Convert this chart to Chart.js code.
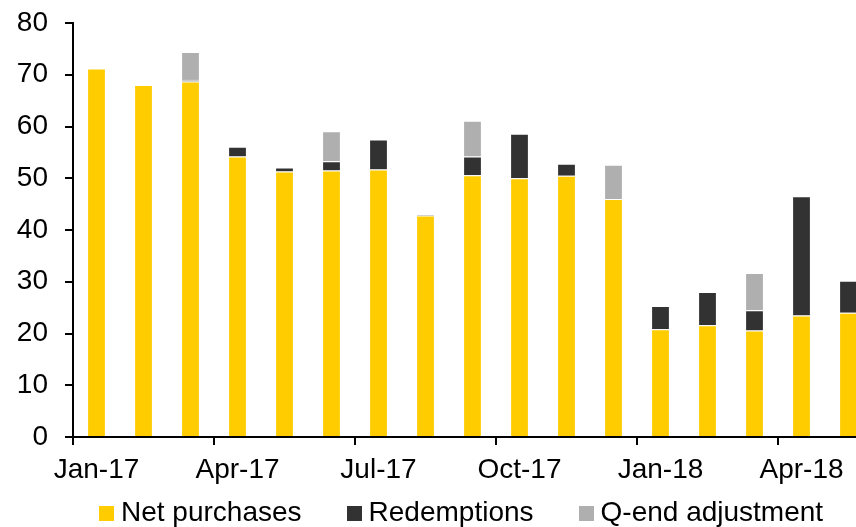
<!DOCTYPE html>
<html>
<head>
<meta charset="utf-8">
<script src="https://cdn.jsdelivr.net/npm/chart.js@4/dist/chart.umd.min.js"></script>
<style>
    html, body { margin: 0; padding: 0; background: #fff; }
    #wrap { position: relative; width: 856px; height: 527px; overflow: hidden; }
    #flows-chart { position: absolute; left: 0; top: 0; }
    #flows-legend {
        position: absolute; left: 99px; top: 498px;
        display: flex; gap: 45px;
        font: 28px Arial, "Liberation Sans", sans-serif; line-height: 28px; color: #000;
        white-space: nowrap;
    }
    #flows-legend .swatch {
        display: inline-block; width: 15px; height: 15px; margin-right: 7px;
        vertical-align: baseline;
    }
</style>
</head>
<body>
<div id="wrap">
    <canvas id="flows-chart" width="872" height="527"></canvas>
    <div id="flows-legend"></div>
</div>
<script>
// monthly flows
const months = [
    "Jan-17", "Feb-17", "Mar-17", "Apr-17", "May-17", "Jun-17", "Jul-17", "Aug-17", "Sep-17",
    "Oct-17", "Nov-17", "Dec-17", "Jan-18", "Feb-18", "Mar-18", "Apr-18", "May-18"
];
const netPurchases = [71.2, 68.0, 68.7, 54.2, 51.3, 51.5, 51.7, 42.8, 50.6, 50.0, 50.5, 46.0, 20.8, 21.6, 20.6, 23.5, 24.0];
const redemptions = [null, null, 0.3, 1.9, 0.8, 1.8, 5.8, 0.2, 3.6, 8.6, 2.3, null, 4.5, 6.4, 3.9, 23.0, 6.2];
const qEndAdjustment = [null, null, 5.4, null, null, 5.8, null, null, 6.9, null, null, 6.6, null, null, 7.2, null, null];

const yTicks = { min: 0, max: 80, step: 10 };

Chart.defaults.font.family = 'Arial, "Liberation Sans", sans-serif';
Chart.defaults.font.size = 28;
Chart.defaults.color = "#000";

function makeSeries(label, data, color) {
    return {
        label: label,
        data: data,
        backgroundColor: color,
        borderColor: "rgba(255, 255, 255, 0.55)",
        borderWidth: 1,
        barPercentage: 0.4,
        categoryPercentage: 1
    };
}

const flowsData = {
    labels: months,
    datasets: [
        makeSeries("Net purchases", netPurchases, "#FFCC00"),
        makeSeries("Redemptions", redemptions, "#323232"),
        makeSeries("Q-end adjustment", qEndAdjustment, "#AFAFAF")
    ]
};

const flowsOptions = {
    responsive: false,
    animation: false,
    layout: { padding: { top: 23, left: 0, right: 0, bottom: 0 } },
    plugins: {
        legend: { display: false },
        tooltip: { enabled: false }
    },
    scales: {
        x: {
            stacked: true,
            afterFit: (scale) => {
                scale.height = 90;
                scale.paddingLeft = 0;
                scale.paddingRight = 0;
            },
            border: { color: "#000", width: 2 },
            grid: {
                offset: true,
                drawOnChartArea: false,
                tickLength: 8,
                lineWidth: 2,
                // tick marks only at quarter boundaries
                color: (ctx) => ctx.index % 3 === 0 ? "#000" : "rgba(0,0,0,0)"
            },
            ticks: {
                autoSkip: false,
                maxRotation: 0,
                minRotation: 0,
                padding: 8,
                callback: (value, index) => index % 3 === 0 ? months[index] : ""
            }
        },
        y: {
            stacked: true,
            min: yTicks.min,
            max: yTicks.max,
            afterFit: (scale) => {
                scale.width = 73;
                scale.paddingTop = 0;
                scale.paddingBottom = 0;
            },
            border: { color: "#000", width: 2 },
            grid: {
                drawOnChartArea: false,
                tickLength: 8,
                lineWidth: 2,
                color: "#000"
            },
            ticks: {
                stepSize: yTicks.step,
                padding: 17
            }
        }
    }
};

const flowsChart = new Chart(document.getElementById("flows-chart"), {
    type: "bar",
    data: flowsData,
    options: flowsOptions
});

// legend under the chart
function renderLegend(chart) {
    const legend = document.getElementById("flows-legend");
    legend.innerHTML = chart.data.datasets.map(ds => `
        <span><span class="swatch" style="background: ${ds.backgroundColor}"></span>${ds.label}</span>
    `).join("");
}

renderLegend(flowsChart);
</script>
</body>
</html>
